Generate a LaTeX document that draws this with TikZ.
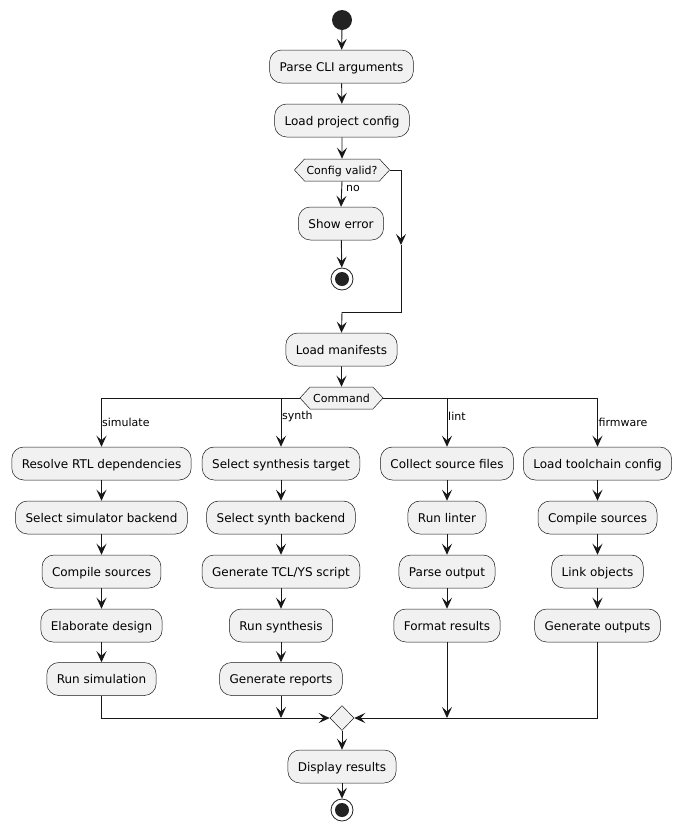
\documentclass[tikz,border=0pt]{standalone}
\usepackage{fontspec}
\setmainfont{DejaVu Sans}
\usetikzlibrary{arrows.meta,shapes.geometric,shapes.symbols}
\definecolor{boxfill}{HTML}{F1F1F1}
\definecolor{ink}{HTML}{181818}
\definecolor{dot}{HTML}{222222}
\begin{document}
\begin{tikzpicture}[x=1pt,y=-1pt,
  act/.style={draw=ink,fill=boxfill,line width=0.5pt,rounded corners=12pt,minimum height=33pt,inner xsep=10pt,inner ysep=0pt,text height=10pt,text depth=1pt,font=\fontsize{12}{14}\selectfont},
  hexa/.style={draw=ink,fill=boxfill,line width=0.5pt,signal,signal to=west and east,signal pointer angle=95,minimum height=22pt,inner ysep=0pt,inner xsep=2pt,text height=9pt,text depth=1pt,font=\fontsize{11}{13}\selectfont},
  merge/.style={draw=ink,fill=boxfill,line width=0.5pt,diamond,minimum width=24pt,minimum height=25pt,inner sep=0pt},
  startdot/.style={circle,fill=dot,minimum size=20pt,inner sep=0pt},
  stopdot/.style={circle,draw=dot,fill=white,line width=0.8pt,minimum size=22pt,inner sep=0pt,path picture={\fill[dot] (path picture bounding box.center) circle (7pt);}},
  arr/.style={draw=ink,line width=0.9pt,-{Stealth[length=11pt,width=10pt,inset=4.5pt]}},
  ln/.style={draw=ink,line width=0.9pt},
  lbl/.style={font=\fontsize{11}{13}\selectfont,anchor=west,inner sep=1pt}
]
\useasboundingbox (0,0) rectangle (682,836);

\node[startdot] (start) at (342,20) {};
\node[act] (parse) at (341.5,66.5) {Parse CLI arguments};
\node[act] (load) at (342,120.5) {Load project config};
\node[hexa,minimum width=94pt] (cv) at (342,170) {Config valid?};
\node[act] (err) at (341,223.5) {Show error};
\node[stopdot] (stop1) at (342,279) {};
\node[act] (lm) at (341.5,349.5) {Load manifests};
\node[hexa,minimum width=83pt] (cmd) at (341.5,398) {Command};

\node[act] (r1) at (101.5,463.5) {Resolve RTL dependencies};
\node[act] (r2) at (101.5,517.5) {Select simulator backend};
\node[act] (r3) at (101.5,571.5) {Compile sources};
\node[act] (r4) at (101.5,625.5) {Elaborate design};
\node[act] (r5) at (101.5,679) {Run simulation};

\node[act] (s1) at (281,463.5) {Select synthesis target};
\node[act] (s2) at (281,517.5) {Select synth backend};
\node[act] (s3) at (281,571.5) {Generate TCL/YS script};
\node[act] (s4) at (281,625.5) {Run synthesis};
\node[act] (s5) at (281,679) {Generate reports};

\node[act] (l1) at (447,463.5) {Collect source files};
\node[act] (l2) at (447,517.5) {Run linter};
\node[act] (l3) at (447,571.5) {Parse output};
\node[act] (l4) at (447,625.5) {Format results};

\node[act] (f1) at (597.5,463.5) {Load toolchain config};
\node[act] (f2) at (597.5,517.5) {Compile sources};
\node[act] (f3) at (597.5,571.5) {Link objects};
\node[act] (f4) at (597.5,625.5) {Generate outputs};

\node[merge] (mg) at (342,718) {};
\node[act] (disp) at (342,766.5) {Display results};
\node[stopdot] (stop2) at (342,810) {};

\coordinate (skipmid) at (401,245);
\coordinate (skipjoin) at (342,312);

% top
\draw[arr] (start) -- (parse);
\draw[arr] (parse) -- (load);
\draw[arr] (load) -- (cv);
\draw[arr] (cv.south) -- (err.north);
\node[lbl] (lno) at (345,188) {no};
\draw[arr] (err) -- (stop1);
\draw[arr] (cv.east) -| (skipmid);
\draw[ln] (skipmid) |- (skipjoin);
\draw[arr] (skipjoin) -- (lm.north);
\draw[arr] (lm) -- (cmd);

% branches
\draw[arr] (cmd.west) -| (r1.north);
\draw[arr] (cmd.west -| s1.north) -- (s1.north);
\draw[arr] (cmd.east) -| (f1.north);
\draw[arr] (cmd.east -| l1.north) -- (l1.north);
\node[lbl] (lsim) at (101,422) {simulate};
\node[lbl] (lsyn) at (281,416) {synth};
\node[lbl] (llint) at (447,416) {lint};
\node[lbl] (lfw) at (597.5,422) {firmware};

% columns
\draw[arr] (r1) -- (r2);
\draw[arr] (r2) -- (r3);
\draw[arr] (r3) -- (r4);
\draw[arr] (r4) -- (r5);
\draw[arr] (s1) -- (s2);
\draw[arr] (s2) -- (s3);
\draw[arr] (s3) -- (s4);
\draw[arr] (s4) -- (s5);
\draw[arr] (l1) -- (l2);
\draw[arr] (l2) -- (l3);
\draw[arr] (l3) -- (l4);
\draw[arr] (f1) -- (f2);
\draw[arr] (f2) -- (f3);
\draw[arr] (f3) -- (f4);

% merge
\draw[arr] (r5.south) |- (mg.west);
\draw[arr] (s5.south) -- (s5.south |- mg.west);
\draw[arr] (f4.south) |- (mg.east);
\draw[arr] (l4.south) -- (l4.south |- mg.east);
\draw[arr] (mg.south) -- (disp.north);
\draw[arr] (disp) -- (stop2);
\end{tikzpicture}
\end{document}
